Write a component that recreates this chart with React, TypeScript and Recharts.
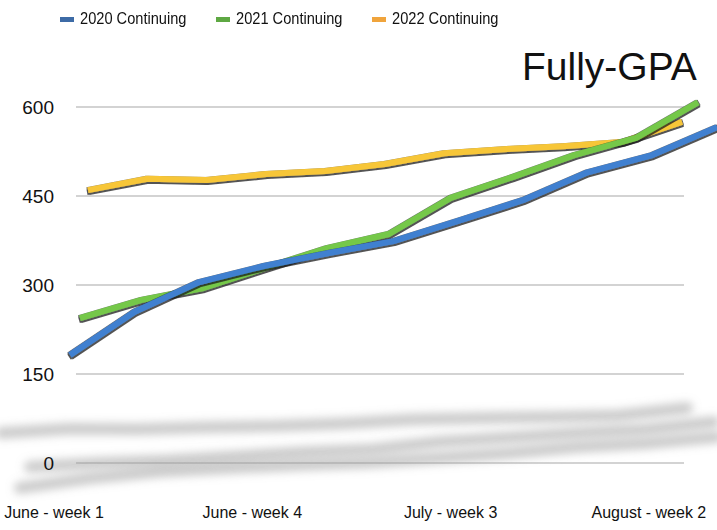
import React from 'react';
import { LineChart, Line, XAxis, YAxis, CartesianGrid } from 'recharts';

// weekly counts
const weeks = [
  'June - week 1',
  'June - week 2',
  'June - week 3',
  'June - week 4',
  'July - week 1',
  'July - week 2',
  'July - week 3',
  'July - week 4',
  'August - week 1',
  'August - week 2',
  'August - week 3',
];
const continuing2020 = [182, 255, 305, 332, 354, 374, 408, 443, 490, 519, 566];
const continuing2021 = [244, 275, 295, 329, 362, 386, 447, 482, 519, 548, 608];
const continuing2022 = [460, 479, 477, 487, 492, 504, 522, 529, 534, 541, 575];
const yTicks = [0, 150, 300, 450, 600];

const data = weeks.map((week, i) => ({
  week,
  c2020: continuing2020[i],
  c2021: continuing2021[i],
  c2022: continuing2022[i],
}));

const FONT = '"Liberation Sans", Arial, Helvetica, sans-serif';

// each series sits at its own depth in the original 3D chart, so it gets its own x padding
const series = [
  { key: 'c2022', name: '2022 Continuing', line: '#f7c638', legend: '#f0a43c', pad: { left: 87, right: 35 }, shadePad: { left: 0, right: 30 }, shadeDomain: [128.8, 2037.8] },
  { key: 'c2021', name: '2021 Continuing', line: '#74c84a', legend: '#5ea843', pad: { left: 79, right: 19 }, shadePad: { left: 29, right: 3 }, shadeDomain: [-65.2, 3300.8] },
  { key: 'c2020', name: '2020 Continuing', line: '#3f80d0', legend: '#3d6ba6', pad: { left: 69, right: 0 }, shadePad: { left: 19, right: 0 }, shadeDomain: [52.7, 3184.7] },
];
const legendOrder = ['c2020', 'c2021', 'c2022'];

const XTick = (props: any) => {
  const { x, y, payload } = props;
  return (
    <text x={x} y={y} dy={11} textAnchor="middle" fontSize={16} fontFamily={FONT} fill="#111">
      {payload.value}
    </text>
  );
};

const YTick = (props: any) => {
  const { y, payload } = props;
  return (
    <text x={54} y={y} dy="0.36em" textAnchor="end" fontSize={19} fontFamily={FONT} fill="#111">
      {payload.value}
    </text>
  );
};

export default function App() {
  return (
    <div style={{ position: 'absolute', left: 0, top: 0, width: 717, height: 530, background: '#fff', fontFamily: FONT }}>
      <style>{`
        .tube .recharts-line-curve { filter: url(#tube); }
        .shade .recharts-line-curve { filter: url(#shade); }
      `}</style>
      <svg width={0} height={0} style={{ position: 'absolute' }}>
        <defs>
          <filter id="tube" filterUnits="userSpaceOnUse" x={-20} y={-20} width={760} height={570}>
            <feMorphology operator="dilate" radius={1} in="SourceAlpha" result="thick" />
            <feOffset dy={1} in="thick" result="off" />
            <feFlood floodColor="#1a1a1a" floodOpacity={0.75} />
            <feComposite in2="off" operator="in" result="edge" />
            <feMerge>
              <feMergeNode in="edge" />
              <feMergeNode in="SourceGraphic" />
            </feMerge>
          </filter>
          <filter id="shade" filterUnits="userSpaceOnUse" x={-40} y={-40} width={800} height={610}>
            <feGaussianBlur stdDeviation={4} />
          </filter>
        </defs>
      </svg>

      <div style={{ position: 'absolute', top: 9, left: 60, display: 'flex', alignItems: 'center', fontSize: 17, color: '#111' }}>
        {legendOrder.map((k) => {
          const s = series.find((d) => d.key === k)!;
          return (
            <div key={k} style={{ display: 'flex', alignItems: 'center', width: 156 }}>
              <span style={{ display: 'inline-block', width: 14, height: 5, background: s.legend, marginRight: 6 }} />
              <span style={{ display: 'inline-block', transform: 'scaleX(0.86)', transformOrigin: 'left center', whiteSpace: 'nowrap' }}>
                {s.name}
              </span>
            </div>
          );
        })}
      </div>
      <div style={{ position: 'absolute', top: 45, left: 522, fontSize: 39, color: '#111', whiteSpace: 'nowrap' }}>
        Fully-GPA
      </div>

      <LineChart width={717} height={530} data={data} margin={{ top: 90, right: 0, bottom: 0, left: 0 }}>
        <XAxis
          xAxisId="labels"
          dataKey="week"
          height={25}
          padding={{ left: 53, right: 2 }}
          axisLine={false}
          tickLine={false}
          tickSize={0}
          interval={2}
          tick={<XTick />}
        />
        {series.map((s) => (
          <XAxis key={'x' + s.key} xAxisId={s.key} orientation="top" height={0} dataKey="week" hide padding={s.pad} />
        ))}
        {series.map((s) => (
          <XAxis key={'xs' + s.key} xAxisId={'shade' + s.key} orientation="top" height={0} dataKey="week" hide padding={s.shadePad} />
        ))}
        <YAxis
          yAxisId="main"
          type="number"
          width={1}
          domain={[-70.8, 628.7]}
          ticks={yTicks}
          interval={0}
          allowDataOverflow
          axisLine={false}
          tickLine={false}
          tick={<YTick />}
        />
        {series.map((s) => (
          <YAxis key={'ys' + s.key} yAxisId={'shade' + s.key} type="number" hide domain={s.shadeDomain} allowDataOverflow />
        ))}
        <CartesianGrid
          xAxisId="labels"
          yAxisId="main"
          vertical={false}
          horizontalValues={yTicks}
          x={76}
          width={608}
          stroke="#c4c4c4"
          strokeWidth={1.5}
        />

        {series.map((s) => (
          <Line
            key={'shade' + s.key}
            className="shade"
            xAxisId={'shade' + s.key}
            yAxisId={'shade' + s.key}
            dataKey={s.key}
            stroke="#9a9a9a"
            strokeOpacity={0.5}
            strokeWidth={12}
            strokeLinecap="round"
            dot={false}
            activeDot={false}
            legendType="none"
            isAnimationActive={false}
          />
        ))}
        {series.map((s) => (
          <Line
            key={s.key}
            className="tube"
            xAxisId={s.key}
            yAxisId="main"
            dataKey={s.key}
            name={s.name}
            stroke={s.line}
            strokeWidth={6}
            strokeLinejoin="round"
            dot={false}
            activeDot={false}
            isAnimationActive={false}
          />
        ))}
      </LineChart>
    </div>
  );
}
